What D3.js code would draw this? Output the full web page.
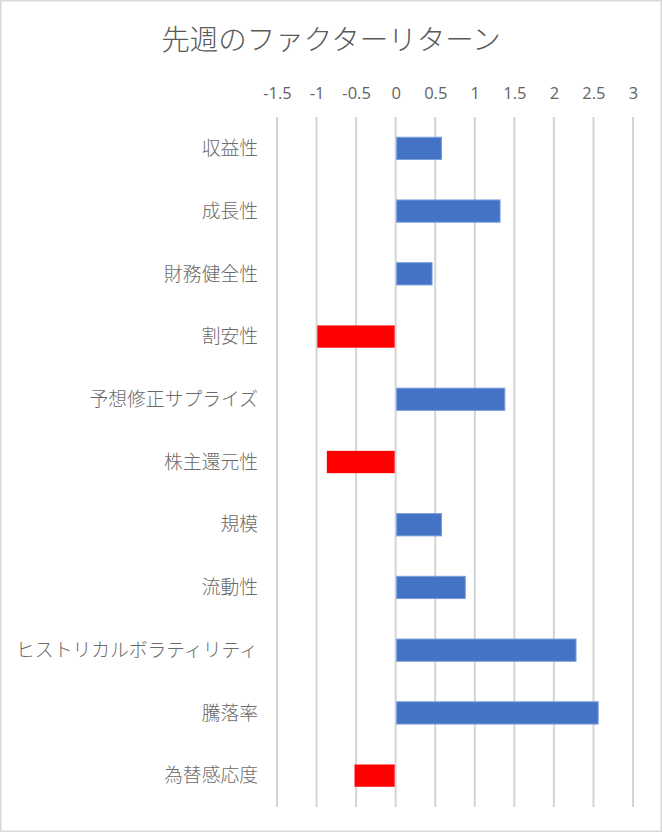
<!DOCTYPE html>
<html>
<head>
<meta charset="utf-8">
<script src="https://cdn.jsdelivr.net/npm/d3@7"></script>
<style>
  html, body { margin: 0; padding: 0; background: #fff; }
  svg { display: block; }
</style>
</head>
<body>
<svg id="chart" width="662" height="832"></svg>
<script>
var title = "先週のファクターリターン";
var categories = ["収益性", "成長性", "財務健全性", "割安性", "予想修正サプライズ", "株主還元性",
                  "規模", "流動性", "ヒストリカルボラティリティ", "騰落率", "為替感応度"];
var returns = [0.58, 1.32, 0.46, -0.99, 1.38, -0.87, 0.58, 0.88, 2.28, 2.56, -0.52];
var ticks = [-1.5, -1, -0.5, 0, 0.5, 1, 1.5, 2, 2.5, 3];

var svg = d3.select("#chart");
var W = 662, H = 832;
var plot = { left: 277, right: 633, top: 117, bottom: 807 };
var jp = "'Noto Sans CJK JP', 'Noto Sans', sans-serif";

// frame
svg.append("rect")
    .attr("x", 0.5).attr("y", 0.5)
    .attr("width", W - 1).attr("height", H - 1)
    .attr("fill", "#fff").attr("stroke", "#d9d9d9").attr("stroke-width", 2);

var x = d3.scaleLinear().domain([-1.5, 3]).range([plot.left, plot.right]);
var y = d3.scaleBand().domain(categories).range([plot.top, plot.bottom]).paddingInner(0.645).paddingOuter(0.3225);

// gridlines
svg.append("g").selectAll("line")
    .data(ticks).enter().append("line")
    .attr("x1", function(d) { return x(d); }).attr("x2", function(d) { return x(d); })
    .attr("y1", plot.top).attr("y2", plot.bottom)
    .attr("stroke", "#d4d4d4").attr("stroke-width", 2);

// top axis labels
var xAxis = d3.axisTop(x).tickValues(ticks).tickSize(0).tickPadding(0)
    .tickFormat(function(d) { return String(d); });
svg.append("g")
    .attr("transform", "translate(0,99)")
    .call(xAxis)
    .call(function(g) { g.select(".domain").remove(); })
    .selectAll("text")
    .attr("fill", "#636363")
    .style("font-family", "'Open Sans', 'Noto Sans', sans-serif")
    .style("font-size", "16.5px");

// bars
svg.append("g").selectAll("rect")
    .data(returns).enter().append("rect")
    .attr("x", function(d) { return d >= 0 ? x(0) + 1 : x(d); })
    .attr("y", function(d, i) { return y(categories[i]); })
    .attr("width", function(d) { return Math.abs(x(d) - x(0)) - 1; })
    .attr("height", y.bandwidth())
    .attr("fill", function(d) { return d >= 0 ? "#4472c4" : "#ff0000"; })
    .attr("stroke", function(d) { return d >= 0 ? "#7b9fdc" : "none"; })
    .attr("stroke-width", 1);

// category labels
svg.append("g").selectAll("text")
    .data(categories).enter().append("text")
    .attr("x", 258)
    .attr("y", function(d) { return y(d) + y.bandwidth() / 2; })
    .attr("dy", "0.36em")
    .attr("text-anchor", "end")
    .attr("fill", "#6a6a6a")
    .style("font-family", jp)
    .style("font-weight", 300)
    .style("font-size", "18.8px")
    .text(function(d) { return d; });

// title
svg.append("text")
    .attr("x", 331).attr("y", 50)
    .attr("text-anchor", "middle")
    .attr("fill", "#595959")
    .style("font-family", jp)
    .style("font-weight", 300)
    .style("font-size", "28.5px")
    .text(title);
</script>
</body>
</html>
